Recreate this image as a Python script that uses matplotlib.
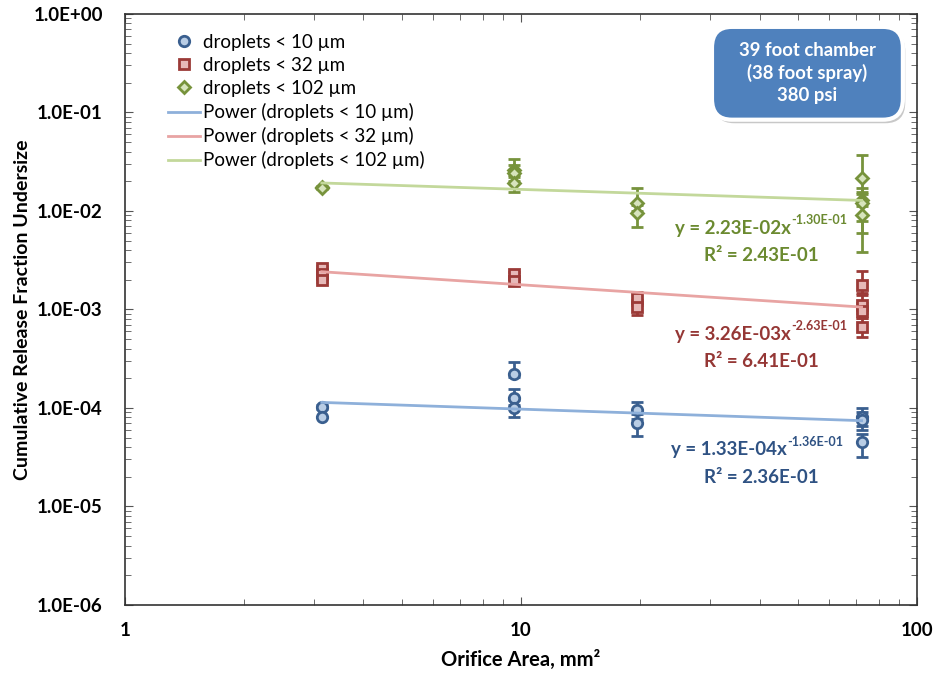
import numpy as np
import matplotlib
matplotlib.use("Agg")
import matplotlib.pyplot as plt
from matplotlib.ticker import LogLocator, FixedLocator, NullFormatter
from matplotlib.patches import FancyBboxPatch

plt.rcParams['font.family'] = ['Lato', 'DejaVu Sans']

# orifice areas (mm2) for each test, per droplet cut
x10 = [3.14, 3.14, 9.62, 9.62, 9.62, 19.6, 19.6, 72.4, 72.4, 72.4]
y10 = [1.02e-4, 8.1e-5, 2.2e-4, 1.26e-4, 1.0e-4, 9.5e-5, 7.1e-5, 8.0e-5, 7.5e-5, 4.5e-5]
lo10 = [0.05e-4, 0.04e-5, 0.15e-4, 0.2e-4, 0.2e-4, 1.8e-5, 1.9e-5, 1.4e-5, 1.5e-5, 1.3e-5]
hi10 = [0.05e-4, 0.04e-5, 0.7e-4, 0.3e-4, 0.2e-4, 2.0e-5, 1.5e-5, 2.0e-5, 1.5e-5, 1.0e-5]

x32 = [3.14, 3.14, 3.14, 9.62, 9.62, 19.6, 19.6, 72.4, 72.4, 72.4, 72.4]
y32 = [2.64e-3, 2.3e-3, 2.0e-3, 2.3e-3, 1.95e-3, 1.31e-3, 1.06e-3, 1.77e-3, 1.11e-3, 9.6e-4, 6.7e-4]
lo32 = [0.1e-3, 0.1e-3, 0.1e-3, 0.1e-3, 0.1e-3, 0.2e-3, 0.18e-3, 0.3e-3, 0.2e-3, 1.5e-4, 1.4e-4]
hi32 = [0.1e-3, 0.1e-3, 0.1e-3, 0.1e-3, 0.1e-3, 0.21e-3, 0.2e-3, 0.7e-3, 0.3e-3, 2.0e-4, 1.5e-4]

x102 = [3.14, 3.14, 9.62, 9.62, 9.62, 19.6, 19.6, 72.4, 72.4, 72.4, 72.4]
y102 = [1.75e-2, 1.7e-2, 2.6e-2, 2.4e-2, 1.9e-2, 1.2e-2, 9.5e-3, 2.16e-2, 1.29e-2, 1.2e-2, 9.1e-3]
lo102 = [0.05e-2, 0.05e-2, 0.3e-2, 0.4e-2, 0.35e-2, 0.2e-2, 2.6e-3, 0.6e-2, 0.5e-2, 0.6e-2, 5.3e-3]
hi102 = [0.05e-2, 0.05e-2, 0.8e-2, 0.5e-2, 0.3e-2, 0.5e-2, 2.0e-3, 1.54e-2, 0.4e-2, 0.3e-2, 2.0e-3]

# power trendline coefficients (y = a * x^b)
fit_a = [1.33e-4, 3.26e-3, 2.23e-2]
fit_b = [-0.136, -0.263, -0.130]
fit_r2 = ["2.36E-01", "6.41E-01", "2.43E-01"]
fit_base = ["y = 1.33E-04x", "y = 3.26E-03x", "y = 2.23E-02x"]
fit_exp = ["-1.36E-01", "-2.63E-01", "-1.30E-01"]
fit_range = [3.14, 72.4]

labels = ["droplets < 10 \u00b5m", "droplets < 32 \u00b5m", "droplets < 102 \u00b5m"]
edge_cols = ["#3a5f8f", "#9b3a37", "#77933c"]
face_cols = ["#b9cde5", "#e6b9b8", "#d7e4bd"]
line_cols = ["#8eb0da", "#e8a4a3", "#c3d89b"]
text_cols = ["#2f5283", "#953735", "#6b8a30"]
markers = ["o", "s", "D"]
msizes = [7.5, 7.5, 6]

fig = plt.figure(figsize=(9.33, 6.74), dpi=100)
ax = fig.add_axes([0.134, 0.1024, 0.849, 0.877])
ax.set_xscale("log")
ax.set_yscale("log")

series = [(x10, y10, lo10, hi10), (x32, y32, lo32, hi32), (x102, y102, lo102, hi102)]
handles = []
for i, (xs, ys, lo, hi) in enumerate(series):
    ax.errorbar(xs, ys, yerr=[lo, hi], fmt="none", ecolor=edge_cols[i],
                elinewidth=2, capsize=4, capthick=2, zorder=3)
    h = ax.plot(xs, ys, linestyle="none", marker=markers[i], ms=msizes[i],
                mfc=face_cols[i], mec=edge_cols[i], mew=2, zorder=4, label=labels[i])[0]
    handles.append(h)

xf = np.logspace(np.log10(fit_range[0]), np.log10(fit_range[1]), 50)
for i in range(3):
    h = ax.plot(xf, fit_a[i] * xf ** fit_b[i], color=line_cols[i], lw=2, zorder=5,
                label="Power (" + labels[i] + ")")[0]
    handles.append(h)

ax.set_xlim(1, 100)
ax.set_ylim(1e-6, 1)
ax.yaxis.set_major_locator(FixedLocator([1e-6, 1e-5, 1e-4, 1e-3, 1e-2, 1e-1, 1]))
ax.set_yticklabels(["1.0E-06", "1.0E-05", "1.0E-04", "1.0E-03", "1.0E-02", "1.0E-01", "1.0E+00"],
                   fontweight="bold", fontsize=13.5)
ax.yaxis.set_minor_locator(LogLocator(base=10, subs=np.arange(2, 10), numticks=20))
ax.yaxis.set_minor_formatter(NullFormatter())
ax.xaxis.set_major_locator(FixedLocator([1, 10, 100]))
ax.set_xticklabels(["1", "10", "100"], fontweight="bold", fontsize=13.5)
ax.xaxis.set_minor_locator(LogLocator(base=10, subs=np.arange(2, 10), numticks=20))
ax.xaxis.set_minor_formatter(NullFormatter())
ax.tick_params(which="both", direction="in", top=True, right=True, color="#555555")
ax.tick_params(which="major", length=6)
ax.tick_params(axis="y", which="major", pad=16)
ax.tick_params(axis="x", which="major", pad=12)
ax.tick_params(which="minor", length=4)
for s in ax.spines.values():
    s.set_color("#333333")
    s.set_linewidth(1.2)

ax.set_xlabel("Orifice Area, mm\u00b2", fontweight="bold", fontsize=14.5, labelpad=8)
ax.set_ylabel("Cumulative Release Fraction Undersize", fontweight="bold", fontsize=14, labelpad=2)

ax.legend(handles=handles, loc="upper left", bbox_to_anchor=(0.04, 0.985), frameon=False,
          fontsize=13.5, handlelength=1.7, handletextpad=0.15, labelspacing=0.32,
          borderaxespad=0.2)

# trendline annotations: junction of base text and exponent
eq_x = [0.835, 0.840, 0.840]
eq_y = [0.253, 0.449, 0.628]
r2_y = [0.207, 0.403, 0.582]
for i in range(3):
    ax.text(eq_x[i], eq_y[i], fit_base[i], transform=ax.transAxes, ha="right",
            va="baseline", color=text_cols[i], fontweight="bold", fontsize=13.5)
    ax.annotate(fit_exp[i], xy=(eq_x[i], eq_y[i]), xycoords="axes fraction",
                xytext=(0.5, 7), textcoords="offset points", ha="left", va="baseline",
                color=text_cols[i], fontweight="bold", fontsize=9)
    ax.text(0.803, r2_y[i], "R\u00b2 = " + fit_r2[i], transform=ax.transAxes,
            ha="center", va="baseline", color=text_cols[i], fontweight="bold", fontsize=13.5)

# condition box
shadow = FancyBboxPatch((0.744, 0.815), 0.241, 0.157, boxstyle="round,pad=0,rounding_size=0.025",
                        transform=ax.transAxes, facecolor="#c8c8c8", edgecolor="none",
                        zorder=5.9, mutation_aspect=1.4)
ax.add_patch(shadow)
box = FancyBboxPatch((0.741, 0.821), 0.241, 0.157, boxstyle="round,pad=0,rounding_size=0.025",
                     transform=ax.transAxes, facecolor="#4f81bd", edgecolor="white", lw=3,
                     zorder=6, mutation_aspect=1.4)
ax.add_patch(box)
ax.text(0.861, 0.9, "39 foot chamber\n(38 foot spray)\n380 psi", transform=ax.transAxes,
        ha="center", va="center", color="white", fontweight="bold", fontsize=13.3,
        linespacing=1.35, zorder=7)

fig.savefig("out.png", dpi=100)
